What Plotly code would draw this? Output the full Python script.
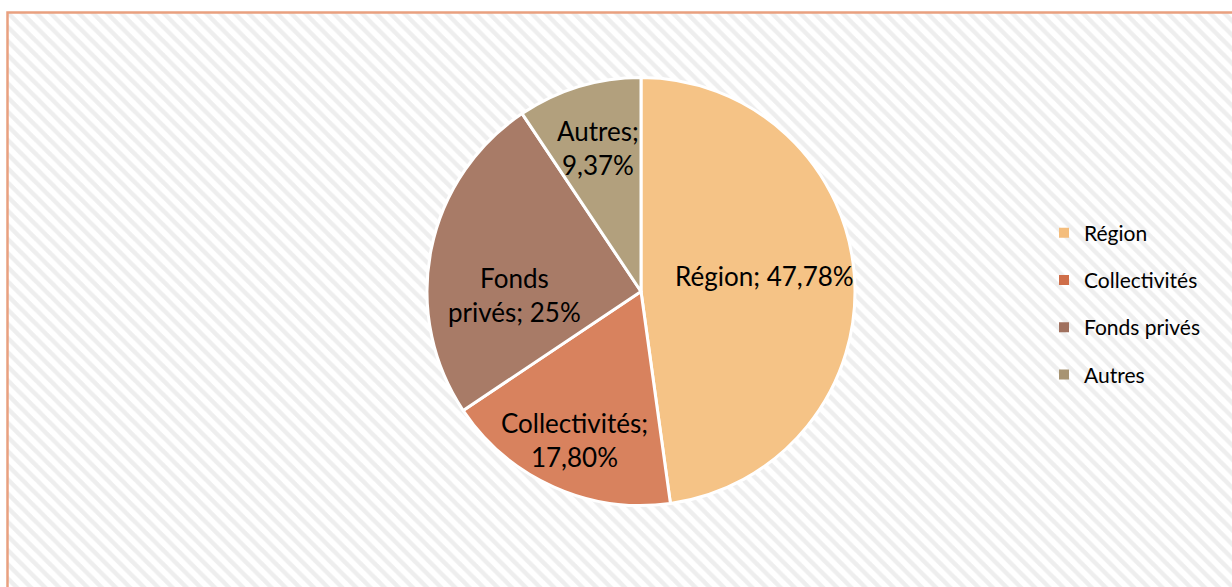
import math
import plotly.graph_objects as go

categories = ["Région", "Collectivités", "Fonds privés", "Autres"]
values = [47.78, 17.80, 25, 9.37]
slice_labels = ["Région; 47,78%", "Collectivités;<br>17,80%", "Fonds<br>privés; 25%", "Autres;<br>9,37%"]
slice_colors = ["#F5C386", "#D8825E", "#A87B67", "#B2A07D"]
legend_colors = ["#F4BD7C", "#CF6E49", "#A0705E", "#A89472"]

W, H = 1232, 587
cx, cy, r = 641, 291.5, 214
bx, by = 7.5, 12.5  # border top-left corner
label_radius = [0.58, 0.76, 0.59, 0.70]  # fraction of radius where each data label sits
label_shift_deg = [-3, 0, -13, 0]        # small angular nudge of each label from the slice mid-angle

fig = go.Figure()

# hatched background inside the chart frame
fig.add_trace(go.Bar(
    x=[0.5], y=[1], width=[1], base=[0],
    marker=dict(color="white", line=dict(width=0),
                pattern=dict(shape="\\", fgcolor="#DDDDDD", bgcolor="white", size=10, solidity=0.45)),
    showlegend=False, hoverinfo="skip"))

fig.add_trace(go.Pie(
    labels=categories, values=values, textinfo="none",
    sort=False, direction="clockwise", rotation=0,
    marker=dict(colors=slice_colors, line=dict(color="white", width=3)),
    showlegend=False,
    domain=dict(x=[(cx - r) / W, (cx + r) / W], y=[(H - cy - r) / H, (H - cy + r) / H])))

# data labels placed along each slice's mid-angle
total = sum(values)
cum = 0.0
annotations = []
for v, txt, f, s in zip(values, slice_labels, label_radius, label_shift_deg):
    mid = (cum + v / 2) / total * 2 * math.pi + math.radians(s)
    cum += v
    px = cx + f * r * math.sin(mid)
    py = cy - f * r * math.cos(mid)
    annotations.append(dict(x=px / W, y=(H - py) / H, xref="paper", yref="paper",
                            xanchor="center", yanchor="middle",
                            text=txt, showarrow=False, align="center",
                            font=dict(family="Lato", size=26, color="black")))

for name, col in zip(categories, legend_colors):
    fig.add_trace(go.Scatter(
        x=[None], y=[None], mode="markers", name=name, legendgroup=name,
        marker=dict(symbol="square", size=10, color=col)))

fig.update_layout(
    width=W, height=H, margin=dict(l=0, r=0, t=0, b=0),
    paper_bgcolor="white", plot_bgcolor="white",
    xaxis=dict(range=[0, 1], visible=False, domain=[bx / W, 1], fixedrange=True),
    yaxis=dict(range=[0, 1], visible=False, domain=[0, (H - by) / H], fixedrange=True),
    bargap=0,
    legend=dict(x=1044 / W, y=(H - 304) / H, xanchor="left", yanchor="middle",
                font=dict(family="Lato", size=21, color="black"),
                tracegroupgap=17, bgcolor="rgba(0,0,0,0)", itemwidth=30),
    annotations=annotations,
    shapes=[dict(type="rect", xref="paper", yref="paper",
                 x0=bx / W, x1=1.02, y0=-0.02, y1=(H - by) / H,
                 line=dict(color="#E9A07F", width=2.5), layer="above")],
)

fig.write_html("out.html", config={"displayModeBar": False},
               post_script="document.body.style.margin='0';")
